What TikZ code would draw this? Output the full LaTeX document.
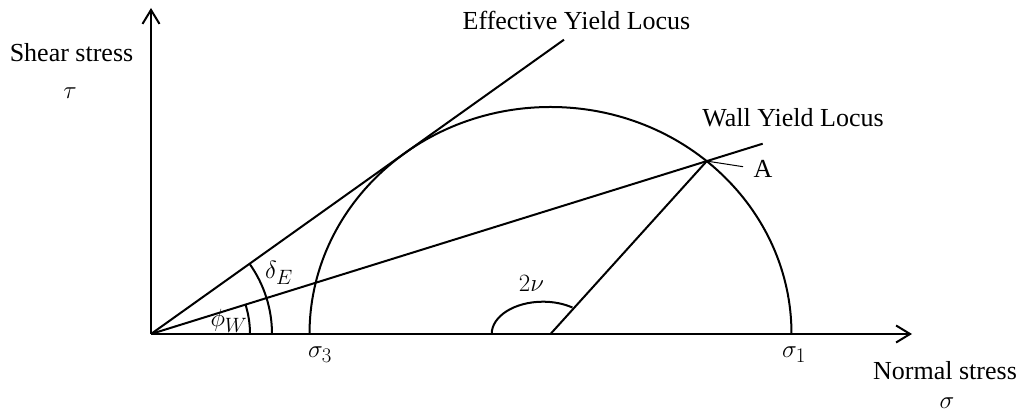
\documentclass[tikz,border=0pt]{standalone}
\usepackage{fontspec}
\setmainfont{Liberation Serif}
\usetikzlibrary{arrows.meta}
\begin{document}
\begin{tikzpicture}[x=1pt,y=1pt,line width=2pt,
  lbl/.style={font=\fontsize{26}{31}\selectfont,inner sep=0pt},
  mlbl/.style={font=\fontsize{28}{32}\selectfont,inner sep=0pt},
  axisline/.style={-{Straight Barb[length=14pt,width=17pt,line width=2pt]},line width=2.2pt},
  leader/.style={line width=1pt}]
\useasboundingbox (0,0) rectangle (1022,414);
% key points
\coordinate (O) at (151,80);
\coordinate (ytip) at (151,406);
\coordinate (xtip) at (912,80);
\coordinate (C) at (550.5,80);
\coordinate (S1) at (791.5,80);
\coordinate (A) at (706.8,252.9);
\coordinate (Wend) at (762.7,270.3);
\coordinate (Eend) at (564,374.3);
\coordinate (Alead) at (743,247.3);
\coordinate (dE) at (272,80);
\coordinate (pW) at (250,80);
\coordinate (nuS) at (491.7,80);
% axes
\draw[axisline] (O) -- (ytip);
\draw[axisline] (O) -- (xtip);
% Mohr semi-circle
\draw (S1) arc[start angle=0,end angle=180,x radius=241,y radius=227];
% yield loci
\draw (O) -- (Eend);
\draw (O) -- (Wend);
\draw (C) -- (A);
\draw[leader] (A) -- (Alead);
% angle arcs
\draw (dE) arc[start angle=0,end angle=35.47,radius=121];
\draw (pW) arc[start angle=0,end angle=17.28,radius=99];
\draw (nuS) arc[start angle=180,end angle=55,x radius=51.3,y radius=32.3];
% labels
\node[lbl,anchor=base] (shear) at (71.5,352) {Shear stress};
\node[mlbl] (tau) at (70,321) {$\tau$};
\node[lbl,anchor=base] (eyl) at (576.5,384) {Effective Yield Locus};
\node[lbl,anchor=base] (wyl) at (793,287) {Wall Yield Locus};
\node[lbl,anchor=base] (Alab) at (763,236) {A};
\node[mlbl] (deltaE) at (279,141) {$\delta_E$};
\node[mlbl] (phiW) at (229,93) {$\phi_W$};
\node[mlbl] (twonu) at (531.5,130.5) {$2\nu$};
\node[mlbl] (s3) at (320,59) {$\sigma_3$};
\node[mlbl] (s1) at (794,59) {$\sigma_1$};
\node[lbl,anchor=base] (normal) at (945,34) {Normal stress};
\node[mlbl] (sigma) at (947,11) {$\sigma$};
\end{tikzpicture}
\end{document}
